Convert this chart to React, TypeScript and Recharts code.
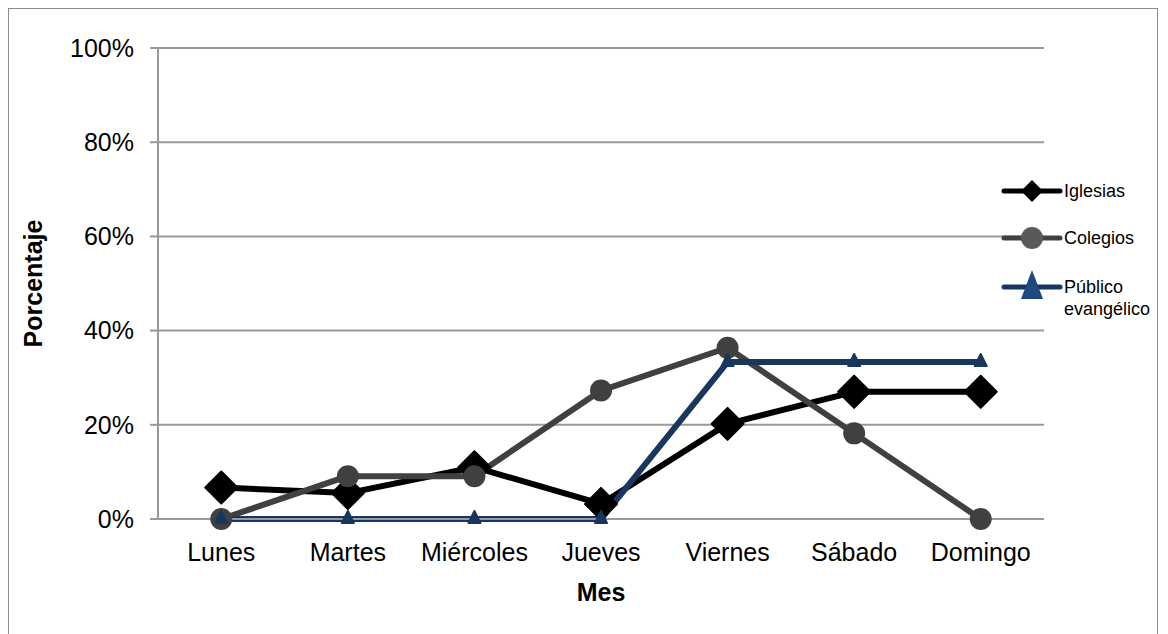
import React from 'react';
import { LineChart, Line, XAxis, YAxis, CartesianGrid, Label } from 'recharts';

const dias = ['Lunes', 'Martes', 'Miércoles', 'Jueves', 'Viernes', 'Sábado', 'Domingo'];
const iglesias = [6.7, 5.5, 11.0, 3.2, 20.2, 27.0, 27.0];
const colegios = [0, 9.09, 9.09, 27.27, 36.36, 18.18, 0];
const publico = [0, 0, 0, 0, 33.33, 33.33, 33.33];
const yTicks = [0, 20, 40, 60, 80, 100];

const data = dias.map((dia, i) => ({
  dia,
  iglesias: iglesias[i],
  colegios: colegios[i],
  publico: publico[i],
}));

const FONT = '"Liberation Sans", Arial, sans-serif';
const GRID = '#999999';
const NEGRO = '#000000';
const GRIS = '#404040';
const AZUL = '#17375E';
const AZUL_MARCA = '#1F497D';

const diamond = (cx: number, cy: number, r: number) =>
  `M${cx},${cy - r} L${cx + r},${cy} L${cx},${cy + r} L${cx - r},${cy} Z`;

const triangle = (cx: number, cy: number, up: number, half: number, down: number) =>
  `M${cx},${cy - up} L${cx + half},${cy + down} L${cx - half},${cy + down} Z`;

const DiamondDot = (props: any) => {
  const { cx, cy, index } = props;
  return (
    <path key={`d-${index}`} d={diamond(cx, cy, 16)} fill={NEGRO} stroke={NEGRO} strokeWidth={2} strokeLinejoin="round" />
  );
};

const CircleDot = (props: any) => {
  const { cx, cy, index } = props;
  return <circle key={`c-${index}`} cx={cx} cy={cy} r={11} fill={GRIS} />;
};

const TriangleDot = (props: any) => {
  const { cx, cy, index } = props;
  return (
    <path key={`t-${index}`} d={triangle(cx, cy, 8, 6, 4)} fill={AZUL} stroke={AZUL} strokeWidth={2} strokeLinejoin="round" />
  );
};

// leyenda dibujada a mano: línea con marcador al centro y texto a la derecha
const Leyenda = () => (
  <svg width={170} height={160} style={{ fontFamily: FONT, fontSize: 18, display: 'block' }}>
    <line x1={14} x2={70} y1={21} y2={21} stroke={NEGRO} strokeWidth={5} strokeLinecap="round" />
    <path d={diamond(42, 21, 11)} fill={NEGRO} />
    <text x={74} y={21} dy="0.35em" fill="#000">Iglesias</text>

    <line x1={14} x2={70} y1={68} y2={68} stroke={GRIS} strokeWidth={5} strokeLinecap="round" />
    <circle cx={42} cy={68} r={11} fill="#595959" />
    <text x={74} y={68} dy="0.35em" fill="#000">Colegios</text>

    <line x1={14} x2={70} y1={117} y2={117} stroke={AZUL} strokeWidth={5} strokeLinecap="round" />
    <path d={triangle(42, 117, 17, 11, 12)} fill={AZUL_MARCA} />
    <text x={74} y={117} dy="0.35em" fill="#000">Público</text>
    <text x={74} y={139} dy="0.35em" fill="#000">evangélico</text>
  </svg>
);

export default function App() {
  return (
    <div style={{ width: 1148, height: 640, border: '1px solid #8c8c8c', position: 'relative', background: '#fff' }}>
      <LineChart
        width={1148}
        height={625}
        data={data}
        margin={{ top: 39, right: 113, left: 0, bottom: 0 }}
        style={{ fontFamily: FONT }}
      >
        <CartesianGrid vertical={false} stroke={GRID} strokeWidth={2} />
        <XAxis
          dataKey="dia"
          scale="band"
          height={115}
          axisLine={{ stroke: GRID, strokeWidth: 2 }}
          tickLine={false}
          tickSize={0}
          tickMargin={24}
          tick={{ fill: '#000', fontSize: 25 }}
        >
          <Label value="Mes" position="insideBottom" offset={33} fill="#000" fontSize={25} fontWeight="bold" />
        </XAxis>
        <YAxis
          width={149}
          domain={[0, 100]}
          ticks={yTicks}
          tickFormatter={(v: number) => `${v}%`}
          axisLine={{ stroke: GRID, strokeWidth: 2 }}
          tickLine={{ stroke: GRID, strokeWidth: 2 }}
          tickSize={8}
          tickMargin={16}
          tick={{ fill: '#000', fontSize: 25 }}
        >
          <Label
            content={({ viewBox }: any) => {
              const cx = viewBox.x + 24;
              const cy = viewBox.y + viewBox.height / 2;
              return (
                <text
                  x={cx}
                  y={cy}
                  dy="0.35em"
                  textAnchor="middle"
                  transform={`rotate(-90 ${cx} ${cy})`}
                  fill="#000"
                  fontSize={25}
                  fontWeight="bold"
                  fontFamily={FONT}
                >
                  Porcentaje
                </text>
              );
            }}
          />
        </YAxis>
        <Line
          dataKey="iglesias"
          name="Iglesias"
          stroke={NEGRO}
          strokeWidth={6}
          strokeLinejoin="round"
          dot={DiamondDot}
          activeDot={false}
          isAnimationActive={false}
        />
        <Line
          dataKey="colegios"
          name="Colegios"
          stroke={GRIS}
          strokeWidth={6}
          strokeLinejoin="round"
          dot={CircleDot}
          activeDot={false}
          isAnimationActive={false}
        />
        <Line
          dataKey="publico"
          name="Público evangélico"
          stroke={AZUL}
          strokeWidth={6}
          strokeLinejoin="round"
          dot={TriangleDot}
          activeDot={false}
          isAnimationActive={false}
        />
      </LineChart>
      <div style={{ position: 'absolute', left: 981, top: 161 }}>
        <Leyenda />
      </div>
    </div>
  );
}
